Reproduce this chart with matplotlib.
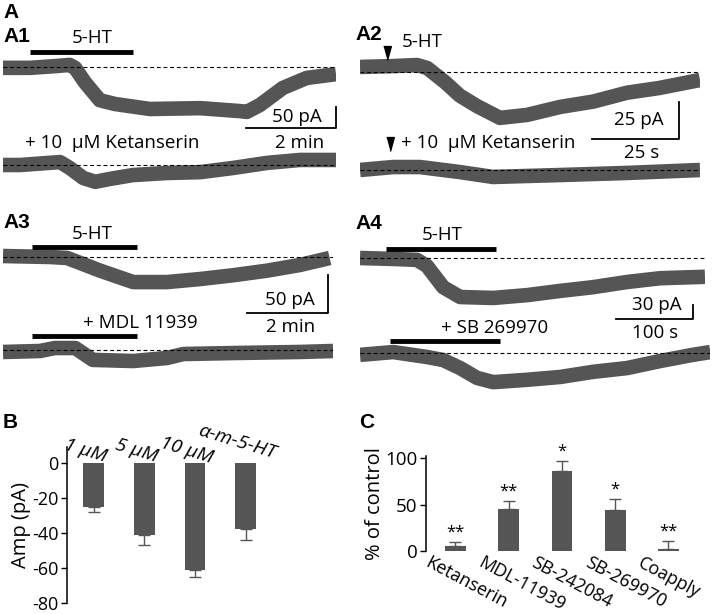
import numpy as np
import matplotlib
matplotlib.use('Agg')
import matplotlib.pyplot as plt

plt.rcParams['font.family'] = ['Open Sans', 'DejaVu Sans']
plt.rcParams['axes.unicode_minus'] = False

W, H = 720, 614
GRAY = '#555555'

# ---- A: current traces (time in s, current in pA relative to baseline) ----
# A1, 5-HT alone / + 10 uM ketanserin
a1_t = [0, 36, 69, 89, 96, 109, 129, 149, 196, 263, 316, 325, 343, 373, 405, 444]
a1_ctrl = [-2, -2, 2, 5, -2, -36, -79, -88, -100, -98, -105, -107, -90, -50, -26, -17]
a1_t2 = [0, 23, 76, 89, 107, 123, 143, 173, 219, 263, 307, 352, 396, 444]
a1_ket = [0, 0, 7, -7, -31, -40, -33, -24, -19, -17, -7, 5, 12, 12]
# A2, puff of 5-HT
a2_t = [0, 9.5, 16.4, 19.3, 24.4, 28.7, 33.6, 40.2, 48, 57.5, 67, 76.7, 86, 97.7]
a2_ctrl = [3.4, 4, 4.7, 2.7, -6.8, -16, -23, -31, -29, -23.6, -20, -14, -10.8, -5.4]
a2_t2 = [0, 9.5, 17.2, 28.7, 38.2, 57.5, 76.7, 97.7]
a2_ket = [0, 2, 2, -1.4, -4.7, -3.4, -2, 0]
# A3, 5-HT alone / + MDL 11939
a3_t = [0, 70, 95, 144, 193, 243, 292, 341, 391, 440, 484]
a3_ctrl = [1.3, 0, -1.3, -18, -33, -33, -29, -24, -18, -10.5, -1.3]
a3_t2 = [0, 55, 77, 107, 133, 193, 243, 267, 341, 440, 489]
a3_mdl = [-2.6, -1.3, 2.6, 2.6, -13, -14.5, -10.5, -5.3, -4, -2.6, -1.3]
# A4, 5-HT alone / + SB 269970
a4_t = [0, 43, 74, 87, 108, 130, 173, 217, 260, 303, 347, 390, 448]
a4_ctrl = [0, -2, -4, -17, -62, -83, -85, -79, -70, -62, -51, -43, -40]
a4_t2 = [0, 43, 87, 108, 130, 152, 173, 217, 260, 303, 347, 390, 432, 455]
a4_sb = [-4, 2, -8.5, -15, -32, -53, -62, -57, -51, -40, -32, -17, -4, 2]

# ---- B: amplitude ----
b_labels = ['1 μM', '5 μM', '10 μM', 'α-m-5-HT']
b_amp = [-25, -41, -61, -37.5]
b_err = [3, 6, 4, 6.5]

# ---- C: % of control ----
c_labels = ['Ketanserin', 'MDL-11939', 'SB-242084', 'SB-269970', 'Coapply']
c_pct = [5, 45, 86, 44, 2]
c_err = [5, 9, 11, 12, 9]
c_stars = ['**', '**', '*', '*', '**']

fig = plt.figure(figsize=(7.2, 6.14), dpi=100)


def px_axes(x0, y0, x1, y1):
    return fig.add_axes([x0 / W, 1 - y1 / H, (x1 - x0) / W, (y1 - y0) / H])


def ftext(x, y, s, **kw):
    kw.setdefault('ha', 'center')
    kw.setdefault('va', 'center')
    kw.setdefault('fontsize', 13.5)
    fig.text(x / W, 1 - y / H, s, **kw)


def trace_axes(x0, x1, y_base, s_px, pa_px, up=30, down=60):
    # data origin (t=0, I=0) sits at pixel (x0, y_base)
    ax = px_axes(x0, y_base - up, x1, y_base + down)
    ax.set_xlim(0, (x1 - x0) / s_px)
    ax.set_ylim(-down / pa_px, up / pa_px)
    ax.axis('off')
    ax.axhline(0, color='k', lw=0.8, ls=(0, (3.5, 2.5)), zorder=3)
    return ax


def trace(ax, t, i):
    ax.plot(t, i, color=GRAY, lw=10.5, solid_joinstyle='round',
            solid_capstyle='butt', zorder=2)


def drug_bar(ax, t0, t1, level):
    ax.plot([t0, t1], [level, level], color='k', lw=3.5,
            solid_capstyle='butt', clip_on=False)


def scale_bar(ax, t_end, i_low, dt, di):
    ax.plot([t_end - dt, t_end, t_end], [i_low, i_low, i_low + di],
            color='k', lw=1.3, clip_on=False)


def arrowhead(ax, t, level):
    ax.plot([t], [level], marker=[(-0.55, 1), (0.55, 1), (0, -1)],
            ms=10, color='k', clip_on=False)


# A1
ax = trace_axes(3, 336, 67, 0.75, 0.42)
trace(ax, a1_t, a1_ctrl)
drug_bar(ax, 36, 173, 36)
scale_bar(ax, 444, -145, 120, 50)
ax = trace_axes(3, 336, 165, 0.75, 0.42)
trace(ax, a1_t2, a1_ket)

# A2
ax = trace_axes(360, 700, 72, 3.48, 1.48)
trace(ax, a2_t, a2_ctrl)
arrowhead(ax, 7.8, 12.8)
scale_bar(ax, 91.7, -45, 25, 25)
ax = trace_axes(360, 700, 170, 3.48, 1.48)
trace(ax, a2_t2, a2_ket)
arrowhead(ax, 8.6, 17.5)

# A3
ax = trace_axes(3, 333, 257, 0.675, 0.76)
trace(ax, a3_t, a3_ctrl)
drug_bar(ax, 43, 198, 13)
scale_bar(ax, 481.5, -73.7, 120, 50)
ax = trace_axes(3, 333, 350, 0.675, 0.76)
trace(ax, a3_t2, a3_mdl)
drug_bar(ax, 43, 198, 18)

# A4
ax = trace_axes(360, 705, 258, 0.77, 0.47)
trace(ax, a4_t, a4_ctrl)
drug_bar(ax, 34, 177, 19)
scale_bar(ax, 432.5, -130, 100, 30)
ax = trace_axes(360, 710, 353, 0.77, 0.47)
trace(ax, a4_t2, a4_sb)
drug_bar(ax, 39, 182, 25.5)

# panel letters
for x, y, s in [(3, 13, 'A'), (3, 36, 'A1'), (355, 35, 'A2'), (3, 223, 'A3'),
                (355, 224, 'A4'), (3, 422, 'B'), (359, 423, 'C')]:
    ftext(x, y, s, ha='left', fontsize=15, fontweight='bold',
          family='Liberation Sans')

# trace annotations
ftext(92, 38, '5-HT')
ftext(112, 143, '+ 10  μM Ketanserin')
ftext(297, 117, '50 pA')
ftext(300, 143, '2 min')
ftext(422, 42, '5-HT')
ftext(488, 143, '+ 10  μM Ketanserin')
ftext(639, 120, '25 pA')
ftext(642, 153, '25 s')
ftext(92, 234, '5-HT')
ftext(140, 323, '+ MDL 11939')
ftext(290, 300, '50 pA')
ftext(291, 327, '2 min')
ftext(442, 235, '5-HT')
ftext(495, 328, '+ SB 269970')
ftext(657, 305, '30 pA')
ftext(655, 333, '100 s')

# B
axB = px_axes(67, 447, 271, 603)
xb = np.arange(len(b_amp))
axB.bar(xb, b_amp, width=0.41, color=GRAY, zorder=2)
axB.errorbar(xb, b_amp, yerr=[b_err, [0] * len(b_err)], fmt='none',
             ecolor=GRAY, elinewidth=1, capsize=4, capthick=1, zorder=1)
axB.set_xlim(-0.53, 3.5)
axB.set_ylim(-80, 9)
axB.set_yticks([0, -20, -40, -60, -80])
axB.set_xticks([])
for s in ['top', 'right', 'bottom']:
    axB.spines[s].set_visible(False)
axB.spines['left'].set_linewidth(1.1)
axB.tick_params(axis='y', labelsize=13, length=4, width=1, pad=2)
axB.set_ylabel('Amp (pA)', fontsize=14.5, labelpad=1)
for i, lab in enumerate(b_labels):
    dy = 6 if len(lab) > 6 else 0
    axB.annotate(lab, (i, 0), xytext=(-6, 9 + dy), textcoords='offset points',
                 rotation=-17, style='italic', fontsize=14,
                 ha='center', va='center', annotation_clip=False)

# C
axC = px_axes(426, 456, 695, 551)
xc = np.arange(len(c_pct))
axC.bar(xc, c_pct, width=0.39, color=GRAY, zorder=2)
axC.errorbar(xc, c_pct, yerr=[[0] * len(c_err), c_err], fmt='none',
             ecolor=GRAY, elinewidth=1, capsize=4, capthick=1, zorder=1)
axC.set_xlim(-0.554, 4.5)
axC.set_ylim(0, 102.5)
axC.set_yticks([0, 50, 100])
axC.set_xticks([])
for s in ['top', 'right', 'bottom']:
    axC.spines[s].set_visible(False)
axC.spines['left'].set_linewidth(1.1)
axC.tick_params(axis='y', labelsize=13.5, length=4, width=1, pad=2)
axC.set_ylabel('% of control', fontsize=14.5, labelpad=0)
for i, (lab, star) in enumerate(zip(c_labels, c_stars)):
    axC.annotate(star, (i, c_pct[i] + c_err[i]), xytext=(0, 1),
                 textcoords='offset points', ha='center', va='bottom',
                 fontsize=12)
    axC.annotate(lab, (i, 0), xytext=(-18, -2), textcoords='offset points',
                 rotation=-28, rotation_mode='anchor', ha='left', va='top',
                 fontsize=13, annotation_clip=False)

fig.savefig('out.png', dpi=100)
